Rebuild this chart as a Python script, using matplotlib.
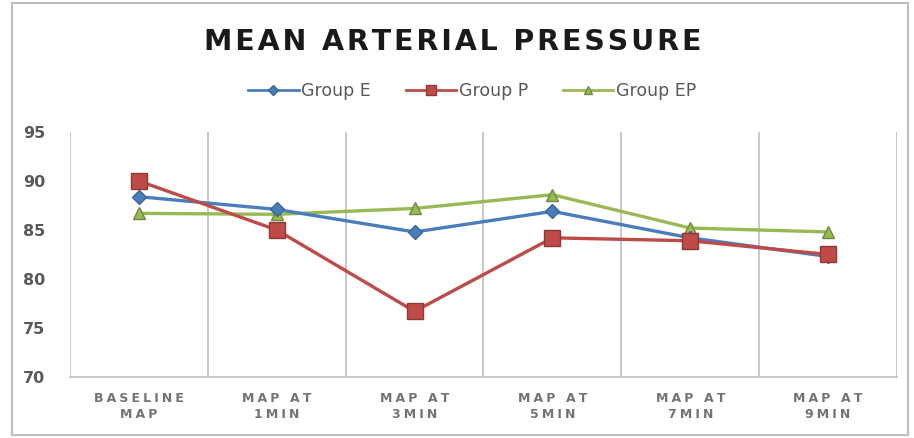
import matplotlib
matplotlib.use("Agg")
import matplotlib.pyplot as plt
from matplotlib.patches import Rectangle

categories = ["BASELINE\nMAP", "MAP AT\n1MIN", "MAP AT\n3MIN", "MAP AT\n5MIN", "MAP AT\n7MIN", "MAP AT\n9MIN"]
group_e = [88.4, 87.1, 84.8, 86.9, 84.2, 82.3]
group_p = [90.0, 85.0, 76.7, 84.2, 83.9, 82.5]
group_ep = [86.7, 86.6, 87.2, 88.6, 85.2, 84.8]
yticks = [70, 75, 80, 85, 90, 95]
title = "MEAN ARTERIAL PRESSURE"


def spaced(s, sp="\u2005"):
    out = []
    for line in s.split("\n"):
        out.append(sp.join(list(line)))
    return "\n".join(out)


plt.rcParams['font.family'] = ['DejaVu Sans']

fig = plt.figure(figsize=(9.14, 4.38), dpi=100)
ax = fig.add_axes([70/914, 1-377/438, (897-70)/914, (377-132)/438])

x = list(range(len(categories)))
ax.plot(x, group_e, color="#4A7EBB", marker="D", markersize=7, markeredgecolor="#3B6595",
        linewidth=2.4, label="Group E", zorder=3)
ax.plot(x, group_p, color="#BE4B48", marker="s", markersize=11, markeredgecolor="#8C3836",
        linewidth=2.4, label="Group P", zorder=4)
ax.plot(x, group_ep, color="#98B954", marker="^", markersize=9, markeredgecolor="#71893F",
        linewidth=2.4, label="Group EP", zorder=2)

ax.set_xlim(-0.5, len(categories) - 0.5)
ax.set_ylim(70, 95)
ax.set_yticks(yticks)
ax.set_yticklabels([str(t) for t in yticks], color="#595959", fontsize=11.5, fontweight="bold")
ax.set_xticks(x)
ax.set_xticklabels([spaced(c) for c in categories], color="#737373", fontsize=9, fontweight="bold",
                   linespacing=1.3)
ax.tick_params(axis="x", length=0, pad=11)
ax.tick_params(axis="y", length=0, pad=18)

for b in [i + 0.5 for i in range(len(categories))]:
    ax.axvline(b, color="#C8C8C8", linewidth=1.4, zorder=0)
for s in ["top", "right", "left"]:
    ax.spines[s].set_visible(False)
ax.spines["bottom"].set_color("#C8C8C8")
ax.spines["bottom"].set_linewidth(1.4)
ax.axvline(-0.5, color="#C8C8C8", linewidth=1.4, zorder=0)

fig.text(453/914, 1-42/438, spaced(title, "\u200a"), ha="center", va="center",
         fontsize=20.5, fontweight="bold", color="#1A1A1A")

leg = ax.legend(loc="center", bbox_to_anchor=(472/914, 1-91/438), bbox_transform=fig.transFigure,
                ncol=3, frameon=False, fontsize=12.5, handlelength=2.9, columnspacing=2.0,
                handletextpad=0.15, markerscale=0.7)
for line in leg.get_lines():
    line.set_linewidth(2.0)
for t in leg.get_texts():
    t.set_color("#595959")

fig.patches.append(Rectangle((12/914, 3/438), (908-12)/914, (435-3)/438, transform=fig.transFigure,
                             fill=False, edgecolor="#BFBFBF", linewidth=1.5))

fig.savefig("out.png", dpi=100)
